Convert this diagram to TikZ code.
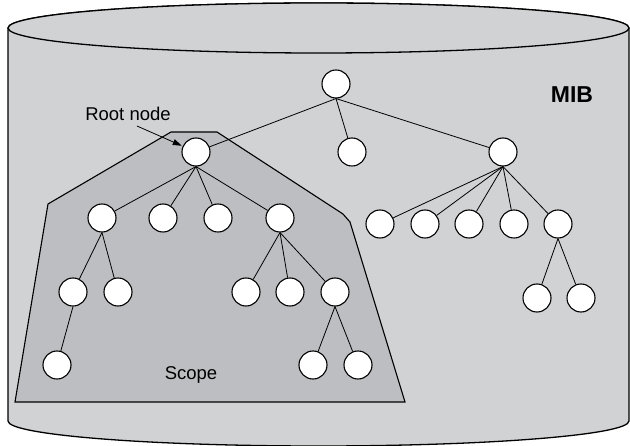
\documentclass[tikz,border=0pt]{standalone}
\usepackage{fontspec}
\setmainfont{Liberation Sans}
\usetikzlibrary{arrows.meta}
\definecolor{cylfill}{RGB}{209,210,212}
\definecolor{scopefill}{RGB}{189,190,193}
\begin{document}
\begin{tikzpicture}[x=1pt,y=-1pt,
  tn/.style={circle,draw,fill=white,minimum size=28pt,inner sep=0pt,line width=1.1pt},
  edge/.style={line width=0.8pt},
  lbl/.style={font=\fontsize{18.5}{20}\selectfont,anchor=base,inner sep=0pt},
  cyl/.style={fill=cylfill,line width=1.3pt,line join=round}]
\useasboundingbox (0,0) rectangle (630,446);
% cylinder
\filldraw[cyl] (8,28) -- (8,421)
  arc[start angle=180,end angle=360,x radius=310.5pt,y radius=25pt]
  -- (629,28) arc[start angle=0,end angle=180,x radius=310.5pt,y radius=25pt] -- cycle;
\filldraw[cyl] (318.5,28) ellipse[x radius=310.5pt,y radius=25pt];
% scope polygon
\filldraw[fill=scopefill,line width=1.1pt,line join=miter]
  (171,132) -- (217,132) -- (343,214) -- (350,222) -- (405,402) -- (15,402) -- (48,204) -- cycle;
% nodes
\node[tn] (a) at (336,84) {};
\node[tn] (r) at (196,152) {};
\node[tn] (m) at (352,152) {};
\node[tn] (q) at (503,152) {};
\node[tn] (r1) at (102,218) {};
\node[tn] (r2) at (163,218) {};
\node[tn] (r3) at (218,218) {};
\node[tn] (r4) at (280,218) {};
\node[tn] (q1) at (380,224) {};
\node[tn] (q2) at (425,224) {};
\node[tn] (q3) at (469,224) {};
\node[tn] (q4) at (514,224) {};
\node[tn] (q5) at (558,224) {};
\node[tn] (q51) at (537,298) {};
\node[tn] (q52) at (581,298) {};
\node[tn] (r11) at (73,292) {};
\node[tn] (r12) at (118,292) {};
\node[tn] (r111) at (57,365) {};
\node[tn] (r41) at (246,292) {};
\node[tn] (r42) at (290,292) {};
\node[tn] (r43) at (335,292) {};
\node[tn] (r431) at (313,365) {};
\node[tn] (r432) at (358,365) {};
% edges
\foreach \p/\c in {a/r,a/m,a/q,r/r1,r/r2,r/r3,r/r4,q/q1,q/q2,q/q3,q/q4,q/q5,q5/q51,q5/q52,
  r1/r11,r1/r12,r11/r111,r4/r41,r4/r42,r4/r43,r43/r431,r43/r432}
  \draw[edge] (\p.south) -- (\c);
% labels
\node[lbl] (rl) at (128,121) {Root node};
\coordinate (rls) at (137,126);
\draw[line width=0.8pt,-{Triangle[length=9pt,width=6pt]},shorten >=1pt] (rls) -- (r);
\node[lbl] (sc) at (191,380) {Scope};
\node[font=\bfseries\fontsize{23}{25}\selectfont,anchor=base,inner sep=0pt] (mib) at (572,103) {MIB};
\end{tikzpicture}
\end{document}
